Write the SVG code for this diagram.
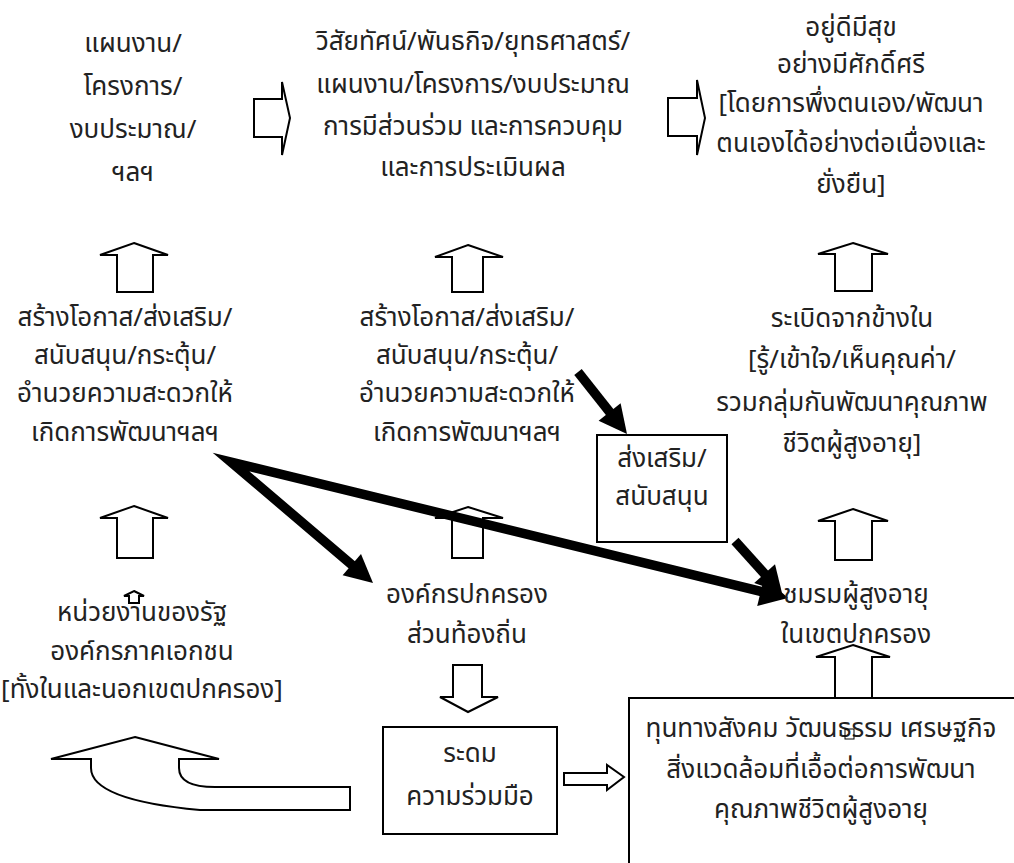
<svg xmlns="http://www.w3.org/2000/svg" width="1014" height="863" viewBox="0 0 1014 863">
<defs>
<style>
text{font-family:"Noto Sans Thai","Leelawadee UI","Tahoma","Noto Sans",sans-serif;font-size:26px;fill:#222;text-anchor:middle}
.blk{fill:#fff;stroke:#000;stroke-width:2;stroke-linejoin:miter}
.box{fill:#fff;stroke:#000;stroke-width:2}
.thick{fill:none;stroke:#000;stroke-width:9.5;stroke-linejoin:miter;stroke-miterlimit:20}
.head{fill:#000}
</style>
</defs>
<rect width="1014" height="863" fill="#fff"/>
<g id="connectors">
<path class="blk" d="M254,99 H282 V82 L290,118 L282,155 V137 H254 Z"/>
<path class="blk" d="M668,98 H697 V80 L705,118 L697,155 V136 H668 Z"/>
<path class="blk" d="M134,243 L168,255 H153 V292 H117 V255 H100 Z"/>
<path class="blk" d="M468,245 L503,257 H483 V292 H452 V257 H435 Z"/>
<path class="blk" d="M853,243 L888,254 H872 V291 H835 V254 H818 Z"/>
<path class="blk" d="M134,506 L168,518 H153 V558 H117 V518 H100 Z"/>
<path class="blk" d="M468,507 L503,518 H483 V558 H452 V518 H435 Z"/>
<path class="blk" d="M853,509 L888,521 H872 V560 H835 V521 H818 Z"/>
<path class="blk" d="M853,645 L890,657 H872 V698 H835 V657 H816 Z"/>
<path class="blk" d="M453,665 H482 V697 H498 L468,712 L440,697 H453 Z"/>
<path class="blk" d="M564,773 H607 V765 L624,777 L607,790 V785 H564 Z"/>
<path class="blk" d="M135,737 L219,759 H179 V768 Q179,787 215,787 H350 V810 H200 Q91,800 91,768 V759 H51 Z"/>
<path class="blk" d="M134,591 L144,596 H139 V603 H129 V596 H124 Z" stroke-width="1.2"/>
<path class="thick" d="M578,372 L612,415"/>
<polygon class="head" points="627,434 598.6,420.7 620.6,403.3"/>
<path class="thick" d="M354.8,567.3 L231,462 L764.7,592.3"/>
<polygon class="head" points="373,583 342.6,575.3 361,554.1"/>
<polygon class="head" points="788,598 757.2,605.9 764.4,576.7"/>
<path class="thick" d="M735,541 L767.2,576.7"/>
<polygon class="head" points="782,593 754.2,583.1 775,564.3"/>
</g>
<g id="n1"><text x="133" y="52">แผนงาน/</text><text x="133" y="95">โครงการ/</text><text x="133" y="138">งบประมาณ/</text><text x="133" y="181">ฯลฯ</text></g>
<g id="n2"><text x="473" y="50">วิสัยทัศน์/พันธกิจ/ยุทธศาสตร์/</text><text x="473" y="93">แผนงาน/โครงการ/งบประมาณ</text><text x="473" y="135">การมีส่วนร่วม และการควบคุม</text><text x="473" y="176">และการประเมินผล</text></g>
<g id="n3"><text x="851" y="36">อยู่ดีมีสุข</text><text x="851" y="73">อย่างมีศักดิ์ศรี</text><text x="851" y="112">[โดยการพึ่งตนเอง/พัฒนา</text><text x="851" y="152">ตนเองได้อย่างต่อเนื่องและ</text><text x="851" y="193">ยั่งยืน]</text></g>
<g id="n4"><text x="125" y="326">สร้างโอกาส/ส่งเสริม/</text><text x="125" y="364">สนับสนุน/กระตุ้น/</text><text x="125" y="402">อำนวยความสะดวกให้</text><text x="125" y="441">เกิดการพัฒนาฯลฯ</text></g>
<g id="n5"><text x="467" y="326">สร้างโอกาส/ส่งเสริม/</text><text x="467" y="364">สนับสนุน/กระตุ้น/</text><text x="467" y="402">อำนวยความสะดวกให้</text><text x="467" y="441">เกิดการพัฒนาฯลฯ</text></g>
<g id="n6"><text x="852" y="327">ระเบิดจากข้างใน</text><text x="852" y="368">[รู้/เข้าใจ/เห็นคุณค่า/</text><text x="852" y="411">รวมกลุ่มกันพัฒนาคุณภาพ</text><text x="852" y="452">ชีวิตผู้สูงอายุ]</text></g>
<g id="n7"><rect class="box" x="597" y="435" width="130" height="107"/><text x="662" y="467">ส่งเสริม/</text><text x="662" y="505">สนับสนุน</text></g>
<g id="n8"><text x="467" y="603">องค์กรปกครอง</text><text x="467" y="643">ส่วนท้องถิ่น</text></g>
<g id="n9"><text x="856" y="603">ชมรมผู้สูงอายุ</text><text x="856" y="643">ในเขตปกครอง</text></g>
<g id="n10"><text x="142" y="621">หน่วยงานของรัฐ</text><text x="142" y="660">องค์กรภาคเอกชน</text><text x="142" y="698">[ทั้งในและนอกเขตปกครอง]</text></g>
<g id="n11"><rect class="box" x="383" y="727" width="174" height="107"/><text x="470" y="762">ระดม</text><text x="470" y="805">ความร่วมมือ</text></g>
<g id="n12"><rect class="box" x="629" y="698" width="400" height="200"/><text x="821" y="737">ทุนทางสังคม วัฒนธรรม เศรษฐกิจ</text><text x="821" y="778">สิ่งแวดล้อมที่เอื้อต่อการพัฒนา</text><text x="821" y="818">คุณภาพชีวิตผู้สูงอายุ</text><rect x="845" y="729" width="9" height="10" fill="none" stroke="#000" stroke-width="1"/></g>
</svg>
